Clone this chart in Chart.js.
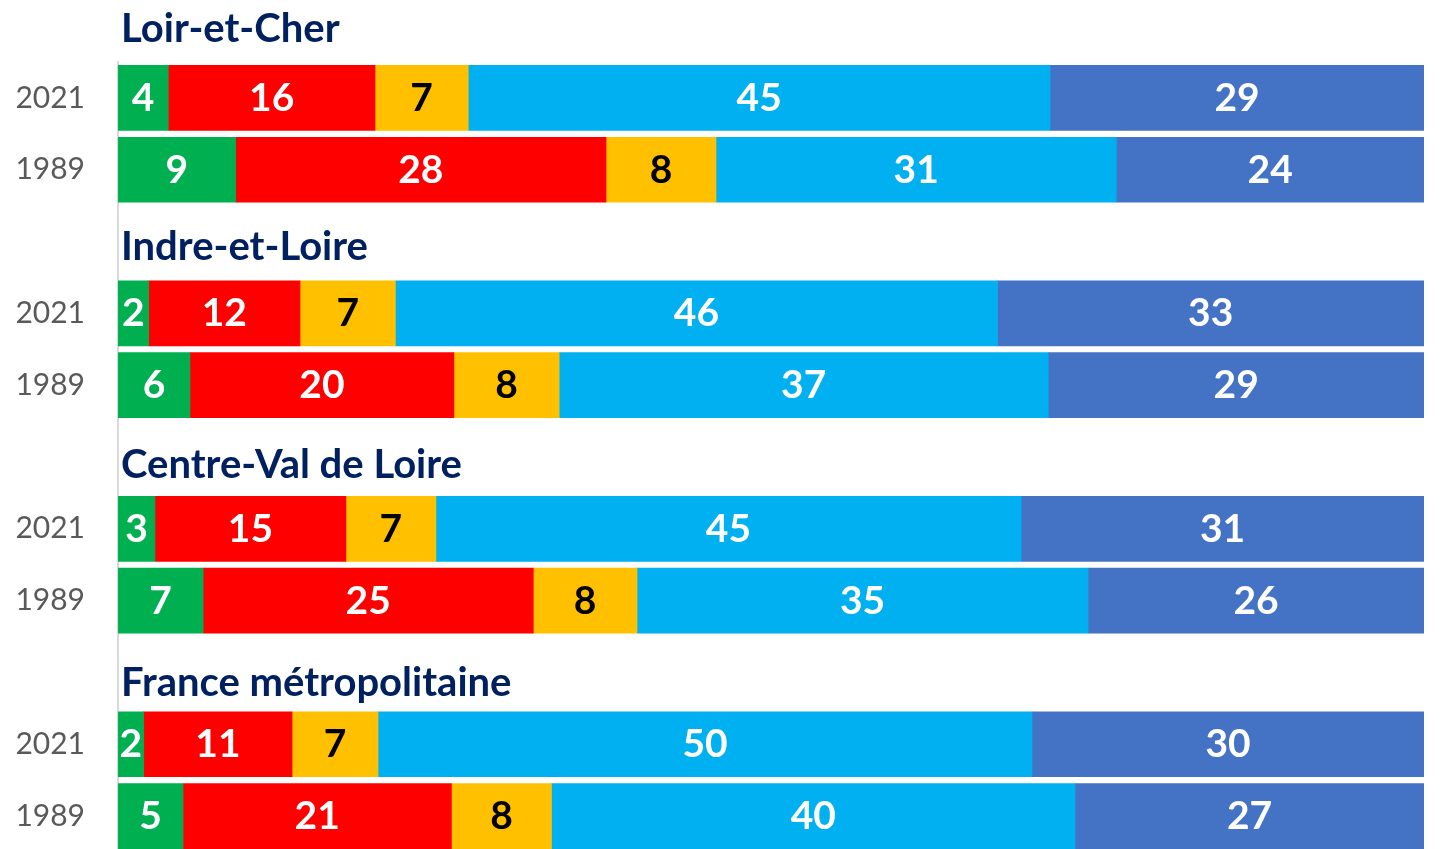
<!DOCTYPE html>
<html>
<head>
<meta charset="utf-8">
<script src="https://cdn.jsdelivr.net/npm/chart.js@4/dist/chart.umd.min.js"></script>
<style>
  html, body { margin: 0; padding: 0; background: #fff; overflow: hidden; }
  canvas { display: block; }
</style>
</head>
<body>
<canvas id="chart" width="1444" height="852"></canvas>
<script>
// rows: 2021 / 1989 for each area, empty row = room for the area title
const rowLabels = ['2021', '1989', '', '2021', '1989', '', '2021', '1989', '', '2021', '1989'];
const groupTitles = ['Loir-et-Cher', 'Indre-et-Loire', 'Centre-Val de Loire', 'France métropolitaine'];

const greenValues = [3.85, 9.01, null, 2.35, 5.51, null, 2.83, 6.52, null, 1.97, 4.98];
const redValues = [15.83, 28.36, null, 11.59, 20.21, null, 14.62, 25.28, null, 11.36, 20.55];
const yellowValues = [7.14, 8.42, null, 7.30, 8.06, null, 6.89, 7.94, null, 6.58, 7.66];
const lightBlueValues = [44.55, 30.65, null, 46.10, 37.45, null, 44.81, 34.54, null, 50.08, 40.09];
const darkBlueValues = [28.63, 23.56, null, 32.66, 28.77, null, 30.85, 25.72, null, 30.01, 26.72];

const seriesColors = ['#00B050', '#FF0000', '#FFC000', '#00B0F0', '#4472C4'];
const labelColors = ['#FFFFFF', '#FFFFFF', '#000000', '#FFFFFF', '#FFFFFF'];

const FONT = 'Lato, "Open Sans", sans-serif';

// value labels in the middle of every segment
const segmentLabels = {
  id: 'segmentLabels',
  afterDatasetsDraw(chart) {
    const ctx = chart.ctx;
    ctx.save();
    ctx.font = `bold 39px ${FONT}`;
    ctx.textAlign = 'center';
    ctx.textBaseline = 'alphabetic';
    chart.data.datasets.forEach((ds, di) => {
      const meta = chart.getDatasetMeta(di);
      ctx.fillStyle = labelColors[di];
      meta.data.forEach((bar, i) => {
        const v = ds.data[i];
        if (v == null) return;
        const { x, base, y } = bar.getProps(['x', 'base', 'y'], true);
        ctx.fillText(String(Math.round(v)), (x + base) / 2, y + 13);
      });
    });
    ctx.restore();
  }
};

// area titles above each pair of bars
const areaTitles = {
  id: 'areaTitles',
  afterDatasetsDraw(chart) {
    const ctx = chart.ctx;
    const yScale = chart.scales.y;
    const step = yScale.getPixelForValue(1) - yScale.getPixelForValue(0);
    ctx.save();
    ctx.font = `bold 40px ${FONT}`;
    ctx.fillStyle = '#002060';
    ctx.textAlign = 'left';
    ctx.textBaseline = 'alphabetic';
    groupTitles.forEach((title, g) => {
      const center = yScale.getPixelForValue(0) + (g * 3 - 1) * step;
      ctx.fillText(title, chart.chartArea.left + 3, center + 16 + 2.6 * g);
    });
    ctx.restore();
  }
};

const makeDataset = (label, data, i) => ({
  label,
  data,
  backgroundColor: seriesColors[i],
  borderWidth: 0,
  barThickness: 65
});

new Chart(document.getElementById('chart'), {
  type: 'bar',
  data: {
    labels: rowLabels,
    datasets: [
      makeDataset('Série 1', greenValues, 0),
      makeDataset('Série 2', redValues, 1),
      makeDataset('Série 3', yellowValues, 2),
      makeDataset('Série 4', lightBlueValues, 3),
      makeDataset('Série 5', darkBlueValues, 4)
    ]
  },
  options: {
    indexAxis: 'y',
    responsive: false,
    animation: false,
    layout: { padding: { top: 62, right: 20, bottom: 0, left: 0 } },
    plugins: {
      legend: { display: false },
      tooltip: { enabled: false }
    },
    scales: {
      x: {
        stacked: true,
        min: 0,
        max: 100,
        display: false
      },
      y: {
        stacked: true,
        offset: true,
        grid: { display: false, drawTicks: false },
        border: { display: true, color: '#D9D9D9', width: 2 },
        ticks: {
          color: '#595959',
          font: { family: FONT, size: 30 },
          padding: 33
        },
        afterFit(scale) {
          scale.width = 118;
          // tick padding should not eat vertical room
          scale.paddingTop = 0;
          scale.paddingBottom = 0;
        }
      }
    }
  },
  plugins: [segmentLabels, areaTitles]
});
</script>
</body>
</html>
